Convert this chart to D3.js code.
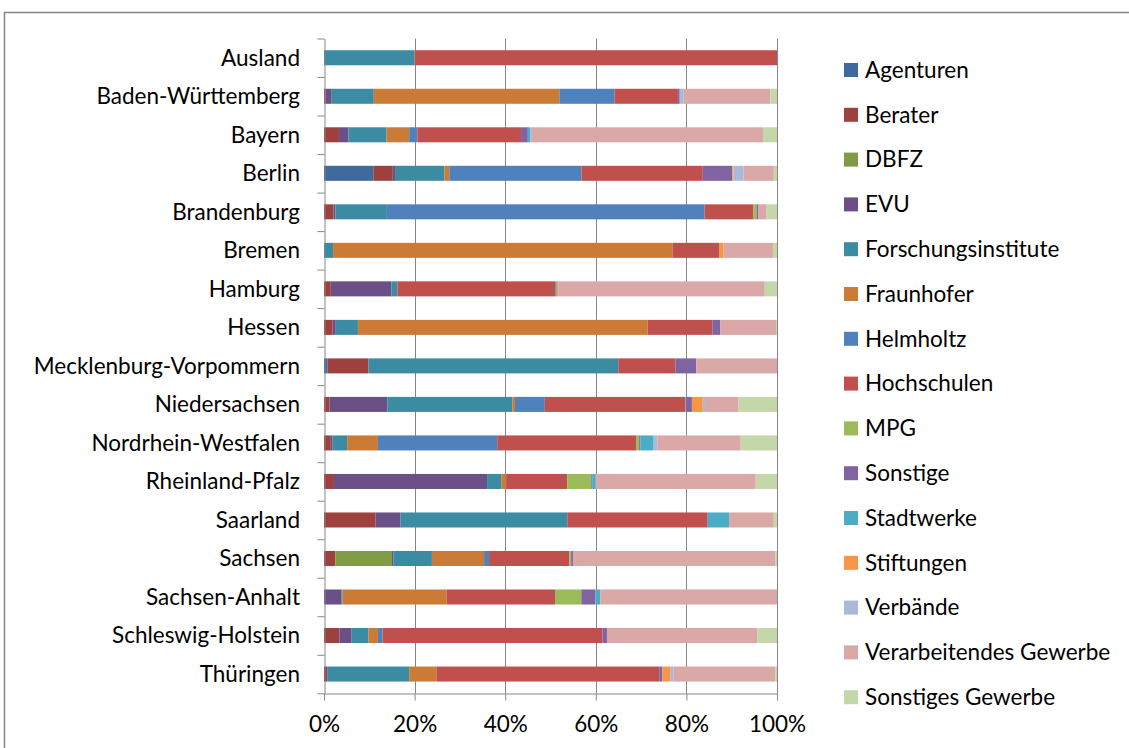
<!DOCTYPE html>
<html>
	<head>
		<meta charset="utf-8">
		<title>Projekte nach Bundesland und Einrichtung</title>

		<style>
		body {
			margin: 0;
			background: #fff;
		}

		svg text {
			font-family: Lato, "Open Sans", sans-serif;
			font-size: 22.5px;
			fill: #000;
		}

		.axis path,
		.axis line {
			stroke: #868686;
			stroke-width: 1px;
		}

		.grid line {
			stroke: #868686;
			stroke-width: 1px;
		}
		</style>

		<script src="https://d3js.org/d3.v7.min.js"></script>
	</head>
	<body>
		<svg id="chart" width="1129" height="748"></svg>

		<script>
		var categories = ['Ausland', 'Baden-Württemberg', 'Bayern', 'Berlin', 'Brandenburg', 'Bremen',
			'Hamburg', 'Hessen', 'Mecklenburg-Vorpommern', 'Niedersachsen', 'Nordrhein-Westfalen',
			'Rheinland-Pfalz', 'Saarland', 'Sachsen', 'Sachsen-Anhalt', 'Schleswig-Holstein', 'Thüringen'];

		var seriesNames = ['Agenturen', 'Berater', 'DBFZ', 'EVU', 'Forschungsinstitute', 'Fraunhofer',
			'Helmholtz', 'Hochschulen', 'MPG', 'Sonstige', 'Stadtwerke', 'Stiftungen', 'Verbände',
			'Verarbeitendes Gewerbe', 'Sonstiges Gewerbe'];

		var seriesColors = ['#3f6a9d', '#9e413e', '#7f9b47', '#6a5087', '#3b8ba2', '#cc7b37',
			'#4f81bd', '#c0504d', '#9bbb59', '#8064a2', '#4bacc6', '#f79646', '#a9bad8',
			'#d9a8a7', '#c4d7a8'];

		// shares in % per category
		var agenturen	= [0, 0, 0, 10.9, 0, 0, 0, 0, 0.8, 0, 0, 0, 0, 0, 0, 0, 0];
		var berater	= [0, 0.3, 3.3, 4.3, 2.1, 0, 1.5, 1.9, 9.0, 1.2, 1.5, 2.2, 11.4, 2.5, 0, 3.4, 0.7];
		var dbfz	= [0, 0, 0, 0, 0, 0, 0, 0, 0, 0, 0, 0, 0, 12.5, 0, 0, 0];
		var evu	= [0, 1.4, 2.1, 0.5, 0.4, 0, 13.4, 0.7, 0, 12.8, 0.4, 33.8, 5.5, 0.3, 3.8, 2.7, 0];
		var forschung	= [20, 9.3, 8.4, 10.9, 11.4, 2.0, 1.3, 4.9, 55.1, 27.6, 3.2, 3.2, 36.8, 8.5, 0.3, 3.7, 18.1];
		var fraunhofer	= [0, 41.0, 5.0, 1.1, 0, 75.0, 0, 64.0, 0, 0.6, 6.8, 1.0, 0, 11.5, 23.0, 2.1, 6.0];
		var helmholtz	= [0, 12.2, 1.8, 29.2, 70.2, 0, 0, 0, 0, 6.6, 26.3, 0, 0, 1.1, 0, 1.0, 0];
		var hochschulen	= [80, 14.0, 22.9, 26.8, 10.8, 10.2, 34.8, 14.3, 12.6, 31.0, 30.6, 13.5, 31.0, 17.7, 23.9, 48.5, 49.2];
		var mpg	= [0, 0, 0, 0, 0.7, 0, 0, 0, 0, 0.1, 0.7, 5.3, 0, 0.4, 5.8, 0, 0];
		var sonstige	= [0, 0.4, 1.5, 6.5, 0.4, 0, 0, 1.8, 4.6, 1.4, 0.3, 0.2, 0, 0.4, 3.1, 1.0, 0.7];
		var stadtwerke	= [0, 0, 0.5, 0, 0, 0, 0.4, 0, 0, 0, 2.9, 0.8, 4.7, 0, 1.1, 0, 0];
		var stiftungen	= [0, 0, 0, 0.3, 0, 1.0, 0.4, 0, 0, 2.4, 0, 0, 0, 0, 0, 0, 1.7];
		var verbaende	= [0, 0.9, 0.4, 2.2, 0, 0, 0, 0, 0, 0.5, 0.8, 0, 0, 0, 0, 0, 0.7];
		var verarbeitend	= [0, 19.1, 51.0, 6.7, 1.8, 10.9, 45.5, 12.3, 17.8, 7.4, 18.4, 35.3, 9.9, 44.6, 39.0, 33.2, 22.5];
		var sonstGewerbe	= [0, 1.5, 3.1, 0.7, 2.3, 0.9, 2.7, 0.2, 0, 8.5, 8.0, 4.7, 0.7, 0.4, 0, 4.3, 0.4];

		var xTicks = [0, 0.2, 0.4, 0.6, 0.8, 1];

		var seriesValues = [agenturen, berater, dbfz, evu, forschung, fraunhofer, helmholtz,
			hochschulen, mpg, sonstige, stadtwerke, stiftungen, verbaende, verarbeitend, sonstGewerbe];

		// one row per category for d3.stack
		var rows = categories.map(function (c, i) {
			var row = { name: c };
			seriesNames.forEach(function (s, j) { row[s] = seriesValues[j][i]; });
			return row;
		});

		var svg = d3.select('#chart'),
			plotTop = 38.5,
			plotBottom = 693.3,
			plotLeft = 324,
			plotRight = 777;

		var x = d3.scaleLinear().domain([0, 1]).range([plotLeft, plotRight]),
			y = d3.scaleBand().domain(categories).range([plotTop, plotBottom])
				.paddingInner(0.61).paddingOuter(0.305),
			yEdge = d3.scaleLinear().domain([0, categories.length]).range([plotTop, plotBottom]),
			color = d3.scaleOrdinal().domain(seriesNames).range(seriesColors);

		// outer frame (only top and left edge fall inside the picture)
		svg.append('path')
			.attr('d', 'M4.5,760 V12.5 H1140')
			.attr('fill', 'none')
			.attr('stroke', '#868686')
			.attr('stroke-width', 1.5);

		// vertical gridlines
		svg.append('g')
			.attr('class', 'grid')
			.selectAll('line')
			.data(xTicks.slice(1))
			.enter()
			.append('line')
			.attr('x1', function (d) { return Math.round(x(d)) + 0.5; })
			.attr('x2', function (d) { return Math.round(x(d)) + 0.5; })
			.attr('y1', plotTop)
			.attr('y2', plotBottom);

		var stack = d3.stack().keys(seriesNames).offset(d3.stackOffsetExpand);

		svg.append('g')
			.selectAll('g')
			.data(stack(rows))
			.enter()
			.append('g')
			.attr('fill', function (d) { return color(d.key); })
			.selectAll('rect')
			.data(function (d) { return d; })
			.enter()
			.append('rect')
			.attr('x', function (d) { return x(d[0]); })
			.attr('y', function (d) { return y(d.data.name); })
			.attr('width', function (d) { return x(d[1]) - x(d[0]); })
			.attr('height', y.bandwidth());

		// left axis: ticks between the categories
		svg.append('g')
			.attr('class', 'axis')
			.attr('transform', 'translate(' + (plotLeft + 0.5) + ',0)')
			.call(d3.axisLeft(yEdge).tickValues(d3.range(categories.length + 1))
				.tickFormat('').tickSize(7).tickSizeOuter(0));

		svg.append('g')
			.selectAll('text')
			.data(categories)
			.enter()
			.append('text')
			.attr('x', 300)
			.attr('y', function (d) { return y(d) + y.bandwidth() / 2; })
			.attr('dy', '0.35em')
			.attr('text-anchor', 'end')
			.text(function (d) { return d; });

		// bottom axis
		var bottomAxis = svg.append('g')
			.attr('class', 'axis')
			.attr('transform', 'translate(0,' + (Math.round(plotBottom) + 0.5) + ')')
			.call(d3.axisBottom(x).tickValues(xTicks).tickFormat(d3.format('.0%'))
				.tickSize(7).tickSizeOuter(0).tickPadding(16));

		bottomAxis.selectAll('text')
			.attr('fill', '#000')
			.style('font-family', 'Lato, "Open Sans", sans-serif')
			.style('font-size', '22.5px');

		// legend
		var legend = svg.append('g')
			.selectAll('g')
			.data(seriesNames)
			.enter()
			.append('g')
			.attr('transform', function (d, i) { return 'translate(844,' + (70 + i * 44.8) + ')'; });

		legend.append('rect')
			.attr('x', 0)
			.attr('y', -7)
			.attr('width', 14)
			.attr('height', 14)
			.attr('fill', function (d) { return color(d); });

		legend.append('text')
			.attr('x', 21)
			.attr('y', 0)
			.attr('dy', '0.35em')
			.text(function (d) { return d; });
		</script>
	</body>
</html>
